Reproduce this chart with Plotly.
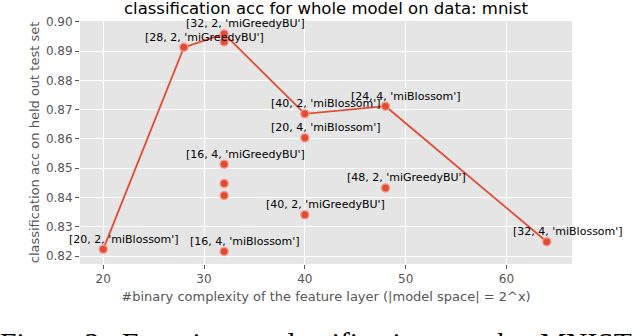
import pandas as pd
import plotly.graph_objects as go

# complexity (x), accuracy, and the config label drawn next to each point
complexity = [20, 28, 32, 32, 32, 32, 32, 32, 40, 40, 40, 48, 48, 64]
accuracy = [0.8223, 0.8913, 0.8959, 0.8932, 0.8514, 0.8448, 0.8407, 0.8216,
            0.8686, 0.8604, 0.8341, 0.8712, 0.8433, 0.8249]
labels = ["[20, 2, 'miBlossom']", "[28, 2, 'miGreedyBU']", "[32, 2, 'miGreedyBU']", "",
          "[16, 4, 'miGreedyBU']", "", "", "[16, 4, 'miBlossom']",
          "[40, 2, 'miBlossom']", "[20, 4, 'miBlossom']", "[40, 2, 'miGreedyBU']",
          "[24, 4, 'miBlossom']", "[48, 2, 'miGreedyBU']", "[32, 4, 'miBlossom']"]

x_ticks = [20, 30, 40, 50, 60]
y_ticks = [0.82, 0.83, 0.84, 0.85, 0.86, 0.87, 0.88, 0.89, 0.90]

df = pd.DataFrame({"x": complexity, "acc": accuracy, "label": labels})
best = df.groupby("x", as_index=False)["acc"].max()

RED = "#E24A33"
GREY = "#555555"
FONT = "DejaVu Sans"

fig = go.Figure()
fig.add_trace(go.Scatter(x=best["x"], y=best["acc"], mode="lines",
                         line=dict(color=RED, width=1.8), hoverinfo="skip"))
fig.add_trace(go.Scatter(x=df["x"], y=df["acc"], mode="markers",
                         marker=dict(size=8, color=RED, symbol="circle",
                                     line=dict(color="rgba(245,150,135,0.9)", width=1.5))))

for _, r in df.iterrows():
    if r["label"]:
        fig.add_annotation(x=r["x"], y=r["acc"], text=r["label"], showarrow=False,
                           xshift=21, yshift=10, font=dict(family=FONT, size=11, color="black"))

# figure caption below the chart (cut off by the image edge)
fig.add_annotation(xref="paper", yref="paper", x=-0.166, y=-0.252, xanchor="left", yanchor="top",
                   text="Figure 3:  Experiment  classification  on  the  MNIST", showarrow=False,
                   font=dict(family="Liberation Serif", size=29.5, color="black"))

fig.update_layout(
    width=636, height=336,
    margin=dict(l=80, r=64, t=21, b=72, autoexpand=False),
    paper_bgcolor="white", plot_bgcolor="#E5E5E5",
    showlegend=False,
    font=dict(family=FONT, color=GREY),
    title=dict(text="classification acc for whole model on data: mnist", x=0.5, xref="paper",
               y=0.993, yanchor="top", font=dict(family=FONT, size=16.5, color="black")),
)
fig.update_xaxes(range=[17.7, 66.5], tickvals=x_ticks, showgrid=True, gridcolor="white", gridwidth=1,
                 zeroline=False, ticks="outside", ticklen=4, tickcolor=GREY, automargin=False,
                 tickfont=dict(size=12, color=GREY),
                 title=dict(text="#binary complexity of the feature layer (|model space| = 2^x)",
                            font=dict(size=13, color=GREY), standoff=6))
fig.update_yaxes(range=[0.8173, 0.9003], tickvals=y_ticks, tickformat=".2f", showgrid=True,
                 gridcolor="white", gridwidth=1, zeroline=False, ticks="outside", ticklen=4,
                 tickcolor=GREY, tickfont=dict(size=12, color=GREY), automargin=False,
                 title=dict(text="classification acc on held out test set",
                            font=dict(size=13, color=GREY), standoff=3))

# drop the page's default body margin so the figure sits at the window's corner
fig.write_html("out.html", config={"displayModeBar": False},
               post_script="document.body.style.margin = '0';")
